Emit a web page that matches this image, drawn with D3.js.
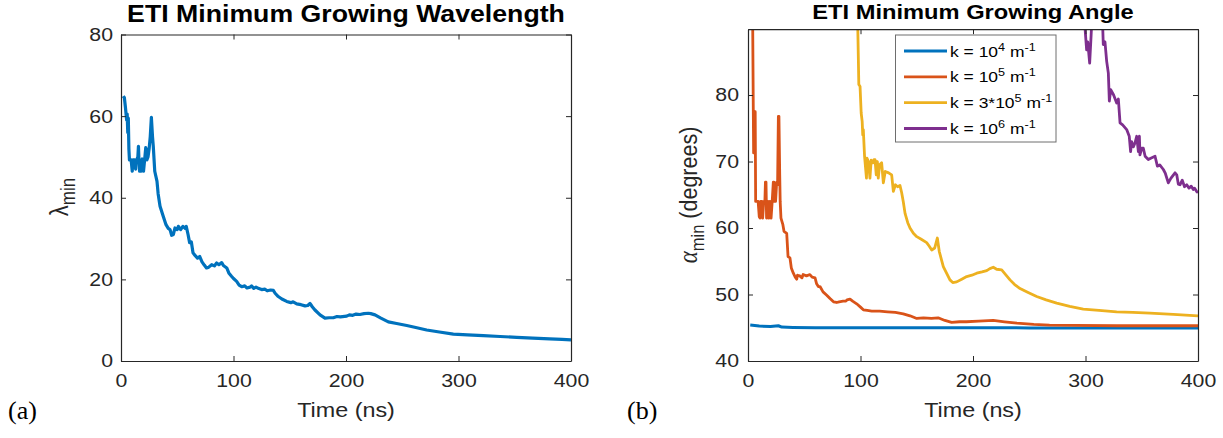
<!DOCTYPE html>
<html>
<head>
<meta charset="utf-8">
<script src="https://cdn.jsdelivr.net/npm/d3@7"></script>
<style>
  html, body { margin: 0; padding: 0; background: #fff; }
  svg { display: block; }
  text { font-family: "Liberation Sans", Arial, Helvetica, sans-serif; fill: #262626; }
</style>
</head>
<body>
<svg id="chart" width="1223" height="438"></svg>
<script>
// ---------------- DATA ----------------
const xTicks = [0, 100, 200, 300, 400];
const lambdaTicks = [0, 20, 40, 60, 80];
const alphaTicks = [40, 50, 60, 70, 80];

// (a) minimum growing wavelength
const lambdaTime = [2, 3, 4, 5, 5.5, 6, 6.5, 7, 7.5, 8, 9, 10, 10.5, 11, 12, 13, 13.5, 14, 15, 15.5, 16, 16.5, 17, 18, 19, 20, 21, 22, 23, 24, 25, 26, 27, 28, 28.7, 30, 32, 33, 34.7, 37.6, 40, 42, 43.6, 45, 46.5, 48, 50, 51, 53, 55, 57, 58, 59.6, 61, 62.5, 64, 66, 68, 70, 72, 74, 76, 78, 80.6, 83, 85, 87, 89.5, 91, 94, 96, 98.4, 100, 102.8, 105, 107.3, 110, 112, 114.7, 116, 118, 120, 122, 125, 128, 130, 133, 135.4, 137, 139.8, 143, 147.3, 151, 153, 156.2, 160, 163.6, 166, 168, 170, 172.4, 176.9, 181.3, 185, 188.7, 192, 195, 200.6, 203, 206, 209, 212.4, 216, 219.8, 222, 225.8, 231, 237.6, 245, 254, 262, 271.7, 283, 295.4, 308, 322, 337, 351.7, 366, 381, 392, 400];
const lambdaMin = [64.9, 64.5, 62, 59, 60.5, 56, 59.5, 52, 49.3, 49.3, 49.3, 46.5, 49.3, 49.3, 49.3, 47, 49.3, 49.3, 50, 52.6, 49, 46.5, 49.3, 46.5, 49.5, 46.5, 49.3, 52.3, 49.3, 50, 52, 55, 59.7, 55, 52.6, 46.5, 44, 41, 37.9, 35.4, 33.4, 32.5, 32.2, 30.8, 31, 32.6, 32.2, 33, 32.2, 33, 32.5, 33, 31, 29, 29.2, 26.5, 25.8, 25.2, 25.6, 24.3, 23.5, 22.8, 23, 23.6, 23.3, 24, 23.6, 24.1, 23.4, 22.8, 21.5, 20.7, 20.2, 19.5, 18.6, 18.2, 18.4, 17.9, 18.1, 18.4, 17.8, 18.1, 17.8, 17.5, 17.6, 17.2, 17.4, 17.3, 16.6, 15.8, 15.2, 14.6, 14.3, 14.5, 14.0, 13.8, 13.5, 13.6, 14.1, 13.3, 12.5, 11.3, 10.5, 10.6, 10.6, 10.9, 10.8, 11.0, 11.3, 11.2, 11.5, 11.4, 11.6, 11.7, 11.6, 11.3, 10.5, 9.6, 9.2, 8.7, 8.2, 7.6, 7.1, 6.6, 6.4, 6.2, 6.0, 5.8, 5.6, 5.4, 5.3, 5.2];

// (b) minimum growing angle, four wavenumbers
const seriesNames = ["k4", "k5", "k3e5", "k6"];
const seriesColors = ["#0072BD", "#D95319", "#EDB120", "#7E2F8E"];

const k4Time = [2, 10, 20, 27, 30, 40, 60, 100, 150, 200, 250, 300, 350, 400];
const k4Alpha = [45.4, 45.25, 45.2, 45.3, 45.1, 45.05, 45.0, 45.0, 45.0, 45.0, 44.98, 44.98, 44.96, 44.96];

const k5Time = [2.5, 4.2, 4.7, 5.0, 5.6, 6.0, 6.4, 6.8, 8, 9, 10, 10.7, 11.3, 12, 13, 14, 15, 15.5, 16, 16.5, 17.5, 18.5, 19.5, 20.5, 21.5, 22.5, 23, 23.5, 24.5, 25.5, 26.3, 27, 27.5, 28.2, 28.6, 29.3, 31, 32, 34.4, 35.6, 37.3, 38.5, 40.3, 42, 43.3, 44, 46, 48, 49, 52, 55, 57, 59.6, 61, 62.5, 64, 66.7, 70, 72.9, 76, 78.8, 81, 84.5, 87, 88, 90.7, 93, 96.6, 100, 102.5, 106, 110, 117, 124, 131, 138, 144, 150, 156, 163, 169, 175, 181, 188, 194, 205, 218, 228, 239, 254, 268, 290, 328, 360, 400];
const k5Alpha = [100, 90, 77.8, 71.3, 71.3, 77.5, 77.5, 64, 64, 64, 61.7, 61.5, 64, 64, 61.5, 64, 64, 66.9, 66.9, 61.5, 64, 61.5, 64, 61.5, 64, 66.9, 66.9, 64, 64, 66.9, 66.5, 76.8, 76.8, 68, 64, 61.5, 60.5, 59.5, 59.2, 55.7, 55.5, 54, 53.2, 52.6, 52.3, 52.9, 52.8, 52.5, 53, 52.8, 53, 52.6, 52.5, 51.6, 51.2, 51.2, 50.4, 49.9, 49.4, 48.9, 48.8, 48.9, 49.0, 49.0, 49.2, 49.3, 49.0, 48.6, 48.1, 47.7, 47.6, 47.5, 47.5, 47.4, 47.3, 47.1, 46.8, 46.4, 46.5, 46.4, 46.5, 46.1, 45.8, 45.9, 45.9, 46.0, 46.1, 45.9, 45.7, 45.5, 45.4, 45.35, 45.3, 45.3, 45.3];

const k3e5Time = [96.6, 97.6, 98.5, 99.6, 100.6, 101.5, 102, 102.5, 103.6, 105.3, 105.8, 107, 108.4, 109.5, 111, 112, 112.9, 114, 115, 115.8, 117, 118.8, 120.3, 122, 125, 127.7, 129.2, 131, 133, 135.1, 136.6, 138, 139.6, 142, 144, 147, 150, 154, 158.8, 161, 163.3, 166, 168.3, 170, 172, 173.6, 176.5, 179.5, 182, 185.5, 190, 194.4, 199, 203.3, 208, 212.2, 215, 218, 221, 225.5, 229, 232.9, 237, 241.8, 249, 256.6, 265, 274.4, 286, 298, 312, 327.7, 342, 357.3, 378, 400];
const k3e5Alpha = [100, 90, 81.6, 81.3, 77.3, 76, 74.0, 74.8, 70.8, 67.5, 70.5, 70, 67.5, 70.2, 69.8, 70.3, 70.3, 68, 70, 67.5, 69.5, 69.8, 66.8, 68.5, 68.3, 68, 65.5, 66.5, 66.2, 66.4, 65.3, 64, 62.2, 60.8, 60.0, 59.2, 58.7, 58.3, 57.8, 57.3, 56.7, 57, 58.5, 56.5, 55.2, 54.2, 53.2, 52.2, 51.8, 51.9, 52.3, 52.7, 52.9, 53.2, 53.4, 53.6, 53.9, 54.1, 53.8, 53.7, 53.0, 52.2, 51.5, 50.9, 50.3, 49.7, 49.2, 48.7, 48.2, 47.8, 47.6, 47.4, 47.3, 47.2, 47.0, 46.8];

const k6Time = [298.5, 299.6, 301, 302, 303.7, 305, 306.7, 314.4, 315.8, 317.3, 318.8, 320.3, 321.2, 322.4, 325, 327.7, 329.2, 330.7, 333, 336.6, 338.9, 340.1, 341, 342.5, 344, 345.5, 347, 347.9, 348.4, 350, 351.4, 353, 355.8, 358, 361.8, 363.9, 366, 369.2, 371, 373.6, 376, 379.6, 381.1, 382.5, 384, 386, 388, 390, 392, 394, 395.8, 397, 398.8, 400];
const k6Alpha = [100, 90, 86.8, 88, 84.8, 89, 95, 95, 87.6, 88, 85.1, 83.3, 79.1, 80.8, 80, 78.8, 79.4, 75.8, 75.5, 74.8, 73.8, 71.5, 73, 72.2, 72.8, 73.8, 71.5, 73.8, 71.0, 72, 72, 70.8, 70.3, 70.5, 70.8, 69.3, 69.5, 68.8, 68.2, 66.8, 67.5, 68.3, 68.0, 66.6, 66.5, 67.2, 66.2, 66.5, 66.0, 66.3, 65.8, 66.0, 65.5, 65.3];

const legendLabels = [
  [["k = 10", 0], ["4", 1], [" m", 0], ["-1", 1]],
  [["k = 10", 0], ["5", 1], [" m", 0], ["-1", 1]],
  [["k = 3*10", 0], ["5", 1], [" m", 0], ["-1", 1]],
  [["k = 10", 0], ["6", 1], [" m", 0], ["-1", 1]]
];

// ---------------- DRAW ----------------
const SX = 1.15; // horizontal stretch of the original figure
const svg = d3.select("#chart");
const AX = "#262626";

function stretchText(sel) {
  sel.each(function () {
    const t = d3.select(this);
    const x = +t.attr("x") || 0, y = +t.attr("y") || 0;
    t.attr("transform", `translate(${x},${y}) scale(${SX},1) translate(${-x},${-y})`);
  });
}

function drawPanel(cfg) {
  const g = svg.append("g");
  const x = d3.scaleLinear().domain([0, 400]).range([cfg.x0, cfg.x1]);
  const y = d3.scaleLinear().domain(cfg.yDomain).range([cfg.yBot, cfg.yTop]);

  const clipId = "clip" + cfg.id;
  svg.append("defs").append("clipPath").attr("id", clipId)
    .append("rect").attr("x", cfg.x0).attr("y", cfg.yTop)
    .attr("width", cfg.x1 - cfg.x0).attr("height", cfg.yBot - cfg.yTop);

  const lines = g.append("g").attr("clip-path", `url(#${clipId})`);
  cfg.series.forEach(s => {
    const pts = s.t.map((t, i) => [t, s.v[i]]);
    lines.append("path")
      .attr("d", d3.line().x(d => x(d[0])).y(d => y(d[1]))(pts))
      .attr("fill", "none").attr("stroke", s.color)
      .attr("stroke-width", s.w).attr("stroke-linejoin", "round");
  });

  const fs = cfg.tickFont;
  const xb = g.append("g").attr("transform", `translate(0,${cfg.yBot})`)
    .call(d3.axisBottom(x).tickValues(xTicks).tickSize(-5).tickPadding(cfg.xPad).tickSizeOuter(0));
  const xt = g.append("g").attr("transform", `translate(0,${cfg.yTop})`)
    .call(d3.axisTop(x).tickValues(xTicks).tickSize(-5).tickFormat("").tickSizeOuter(0));
  const yl = g.append("g").attr("transform", `translate(${cfg.x0},0)`)
    .call(d3.axisLeft(y).tickValues(cfg.yTicks).tickSize(-5).tickPadding(cfg.yPad).tickSizeOuter(0));
  const yr = g.append("g").attr("transform", `translate(${cfg.x1},0)`)
    .call(d3.axisRight(y).tickValues(cfg.yTicks).tickSize(-5).tickFormat("").tickSizeOuter(0));

  [xb, xt, yl, yr].forEach(a => {
    a.selectAll(".domain").attr("stroke", AX).attr("stroke-width", 1.2);
    a.selectAll(".tick line").attr("stroke", AX).attr("stroke-width", 1);
    a.selectAll(".tick text").attr("fill", AX).style("font-size", fs + "px")
      .style("font-family", '"Liberation Sans", Arial, sans-serif');
  });
  stretchText(xb.selectAll(".tick text"));
  stretchText(yl.selectAll(".tick text"));

  const title = g.append("text").attr("x", (cfg.x0 + cfg.x1) / 2).attr("y", cfg.titleY)
    .attr("text-anchor", "middle").style("font-weight", "bold")
    .style("font-size", cfg.titleFont + "px").style("fill", "#000").text(cfg.title);
  stretchText(title);

  const xl = g.append("text").attr("x", (cfg.x0 + cfg.x1) / 2).attr("y", cfg.xLabelY)
    .attr("text-anchor", "middle").style("font-size", cfg.labelFont + "px").text("Time (ns)");
  stretchText(xl);

  g.append("text").attr("x", cfg.letterX).attr("y", cfg.letterY)
    .style("font-family", '"Liberation Serif", "Times New Roman", serif')
    .style("font-size", "26px").style("fill", "#000").text(cfg.letter);

  return { g, x, y };
}

const pa = drawPanel({
  id: "a", x0: 121, x1: 571, yTop: 34.5, yBot: 361, yDomain: [0, 80], yTicks: lambdaTicks,
  tickFont: 18.5, labelFont: 20.3, titleFont: 23.2, titleY: 22, xLabelY: 417, xPad: 13, yPad: 8,
  title: "ETI Minimum Growing Wavelength", letter: "(a)", letterX: 8, letterY: 419,
  series: [{ t: lambdaTime, v: lambdaMin, color: "#0072BD", w: 3.2 }]
});

{
  const yl = pa.g.append("text").attr("text-anchor", "middle")
    .attr("transform", `translate(68,197) scale(${SX},1) rotate(-90)`)
    .style("font-size", "22px");
  yl.append("tspan").text("λ");
  yl.append("tspan").attr("dy", 6).style("font-size", "17px").text("min");
}

const pb = drawPanel({
  id: "b", x0: 748, x1: 1198, yTop: 29.2, yBot: 361, yDomain: [40, 89.9], yTicks: alphaTicks,
  tickFont: 18.5, labelFont: 20.3, titleFont: 20.6, titleY: 19, xLabelY: 417, xPad: 13, yPad: 9,
  title: "ETI Minimum Growing Angle", letter: "(b)", letterX: 627, letterY: 419,
  series: [
    { t: k4Time, v: k4Alpha, color: seriesColors[0], w: 3 },
    { t: k5Time, v: k5Alpha, color: seriesColors[1], w: 2.8 },
    { t: k3e5Time, v: k3e5Alpha, color: seriesColors[2], w: 2.8 },
    { t: k6Time, v: k6Alpha, color: seriesColors[3], w: 2.8 }
  ]
});

{
  const yl = pb.g.append("text").attr("text-anchor", "middle")
    .attr("transform", `translate(697,195) scale(${SX},1) rotate(-90)`)
    .style("font-size", "21.5px");
  yl.append("tspan").style("font-family", '"Liberation Serif", "Times New Roman", serif')
    .style("font-style", "italic").style("font-size", "23px").text("α");
  yl.append("tspan").attr("dy", 6).style("font-size", "16.5px").text("min");
  yl.append("tspan").attr("dy", -6).text(" (degrees)");
}

{
  const lx = 895.5, ly = 35, lw = 160.5, lh = 107;
  const lg = pb.g.append("g");
  lg.append("rect").attr("x", lx).attr("y", ly).attr("width", lw).attr("height", lh)
    .attr("fill", "#fff").attr("stroke", "#6e6e6e").attr("stroke-width", 1);
  const rowY = d3.scalePoint().domain(seriesNames).range([51, 128.5]);
  seriesNames.forEach((name, i) => {
    const cy = rowY(name);
    lg.append("line").attr("x1", 904).attr("x2", 947).attr("y1", cy).attr("y2", cy)
      .attr("stroke", seriesColors[i]).attr("stroke-width", 2.8);
    const t = lg.append("text").attr("transform", `translate(950,${cy + 5.5}) scale(${SX},1)`)
      .style("font-size", "15.2px").style("fill", "#000");
    legendLabels[i].forEach(([s, sup]) => {
      const ts = t.append("tspan").text(s);
      if (sup) ts.attr("dy", -6).style("font-size", "11px");
      else ts.attr("dy", t.selectAll("tspan").size() > 1 ? 6 : 0);
    });
  });
}
</script>
</body>
</html>
